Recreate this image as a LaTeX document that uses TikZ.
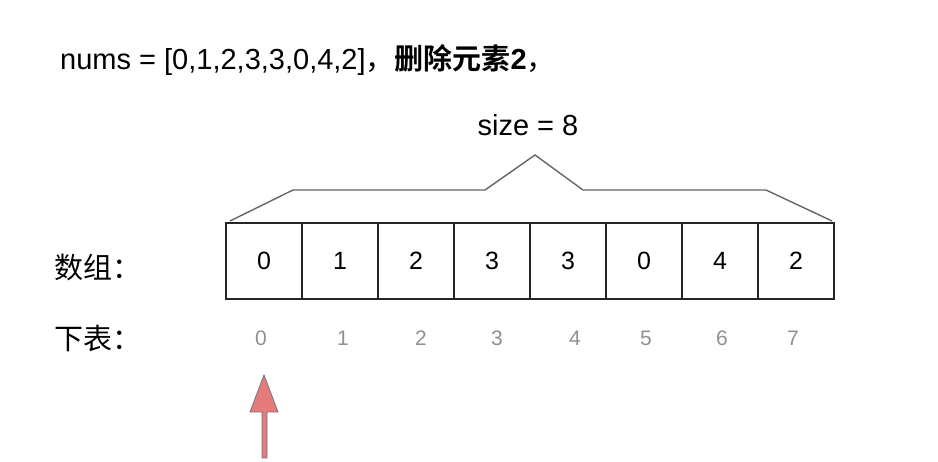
\documentclass[tikz,border=0pt]{standalone}
\usepackage{fontspec}
\setmainfont{Liberation Sans}
\newfontfamily\cjk{Noto Sans CJK SC}
\newfontfamily\cjkb{Noto Sans CJK SC}[BoldFont={* Bold}]
\usetikzlibrary{arrows.meta}
\definecolor{arrowred}{HTML}{E57B7B}
\definecolor{idxgray}{HTML}{909090}
\begin{document}
\begin{tikzpicture}[x=1pt,y=-1pt,
  cell/.style={draw=black!85,line width=1.2pt,minimum width=76pt,minimum height=76pt,inner sep=0pt,font=\fontsize{25}{25}\selectfont},
  idx/.style={text=idxgray,font=\fontsize{21}{21}\selectfont,inner sep=0pt},
  lbl/.style={font=\cjk\fontsize{29}{29}\selectfont,inner sep=0pt,anchor=west},
  brace/.style={draw=black!60,line width=1.4pt,line join=miter}]
\useasboundingbox (0,0) rectangle (938,462);
\node[anchor=west,inner sep=0pt,font=\fontsize{29}{29}\selectfont] (title) at (60,60)
  {nums = [0,1,2,3,3,0,4,2]{\cjk ，}{\cjkb\bfseries 删除元素}\textbf{2}{\cjk ，}};
\node[inner sep=0pt,font=\fontsize{29}{29}\selectfont] (size) at (528,125) {size = 8};
\foreach \v [count=\i from 0] in {0,1,2,3,3,0,4,2} {
  \node[cell] (c\i) at ({264+76*\i},261) {\v};
}
\foreach \x [count=\i from 0] in {261,343,421,497,575,646,722,793} {
  \node[idx] (i\i) at (\x,338) {\i};
}
\node[lbl] (arr) at (54,268) {数组：};
\node[lbl] (sub) at (54,338) {下表：};
\coordinate (b0) at (230,221);
\coordinate (b1) at (293,190);
\coordinate (b2) at (485,190);
\coordinate (b3) at (535,155);
\coordinate (b4) at (583,190);
\coordinate (b5) at (766,190);
\coordinate (b6) at (832,221);
\draw[brace] (b0) -- (b1) -- (b2) -- (b3) -- (b4) -- (b5) -- (b6);
\draw[fill=arrowred,draw=black!55,line width=0.8pt,line join=miter]
  (262,458) -- (262,412) -- (250,412) -- (264,375) -- (278,412) -- (267,412) -- (267,458) -- cycle;
\end{tikzpicture}
\end{document}
